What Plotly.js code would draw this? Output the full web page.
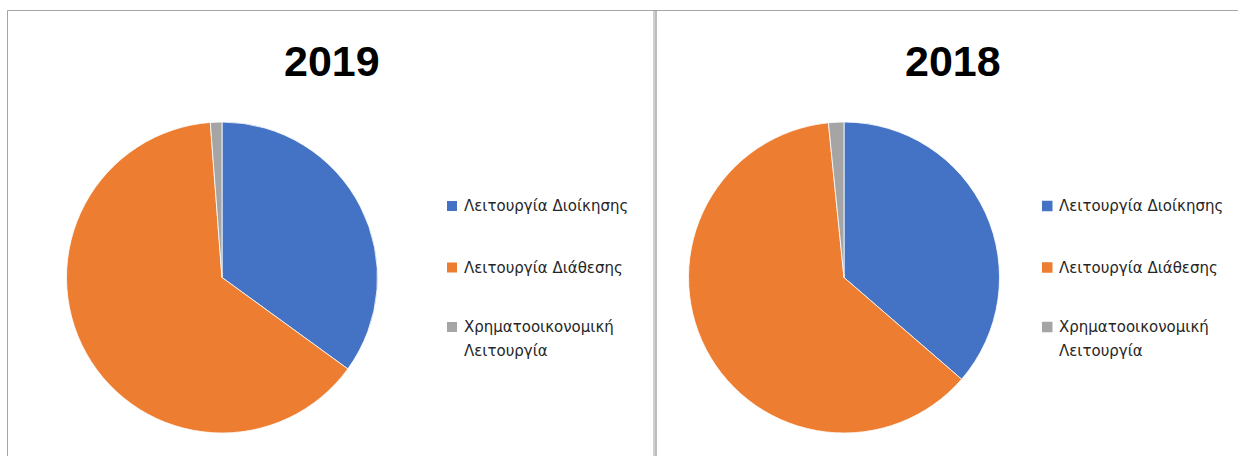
<!DOCTYPE html>
<html>
<head>
<meta charset="utf-8">
<script src="https://cdn.plot.ly/plotly-3.0.1.min.js"></script>
<style>html,body{margin:0;padding:0;background:#fff;}#chart{width:1238px;height:456px;}</style>
</head>
<body>
<div id="chart"></div>
<script>
// ---- data ----
const categories = ['Λειτουργία Διοίκησης', 'Λειτουργία Διάθεσης', 'Χρηματοοικονομική Λειτουργία'];
const years = ['2019', '2018'];
const values2019 = [35.0, 63.8, 1.2];
const values2018 = [36.35, 62.05, 1.6];
const sliceColors = ['#4472C4', '#ED7D31', '#A5A5A5'];

// ---- layout helpers (pixel -> paper) ----
const W = 1238, H = 456;
const px = x => x / W;
const py = y => 1 - y / H;

const panels = [
  {values: values2019, cx: 222, cy: 277.5, r: 155.5, titleX: 331.5, legSq: 447, legTx: 462, sqW: 10},
  {values: values2018, cx: 844, cy: 277.5, r: 155.5, titleX: 953, legSq: 1042, legTx: 1057, sqW: 10.5}
];
const legendRows = [[206], [267.5], [327, 351]];

const traces = panels.map((p, i) => ({
  type: 'pie',
  labels: categories,
  values: p.values,
  name: years[i],
  sort: false,
  direction: 'clockwise',
  rotation: 0,
  textinfo: 'none',
  hoverinfo: 'label+percent',
  showlegend: false,
  marker: {colors: sliceColors, line: {color: '#ffffff', width: 0.8}},
  domain: {x: [px(p.cx - p.r), px(p.cx + p.r)], y: [py(p.cy + p.r), py(p.cy - p.r)]}
}));

const annotations = [];
const shapes = [];

// panel borders
shapes.push({type: 'line', xref: 'paper', yref: 'paper', x0: px(7.5), x1: px(1238), y0: py(10.5), y1: py(10.5), line: {color: '#a6a6a6', width: 1}});
shapes.push({type: 'line', xref: 'paper', yref: 'paper', x0: px(7.5), x1: px(7.5), y0: py(10.5), y1: py(460), line: {color: '#a6a6a6', width: 1}});
shapes.push({type: 'line', xref: 'paper', yref: 'paper', x0: px(654), x1: px(654), y0: py(10.5), y1: py(460), line: {color: '#a0a0a0', width: 1}});
shapes.push({type: 'line', xref: 'paper', yref: 'paper', x0: px(656), x1: px(656), y0: py(10.5), y1: py(460), line: {color: '#909090', width: 1.2}});

panels.forEach((p, i) => {
  annotations.push({
    xref: 'paper', yref: 'paper', x: px(p.titleX), y: py(61), xanchor: 'center', yanchor: 'middle',
    text: '<b>' + years[i] + '</b>', showarrow: false,
    font: {family: 'Liberation Sans, Arial, sans-serif', size: 43, color: '#000000'}
  });
  categories.forEach((c, k) => {
    const rows = legendRows[k];
    const lines = rows.length > 1 ? c.split(' ') : [c];
    const s = p.sqW / 2;
    shapes.push({
      type: 'rect', xref: 'paper', yref: 'paper',
      x0: px(p.legSq), x1: px(p.legSq + p.sqW), y0: py(rows[0] - s), y1: py(rows[0] + s),
      fillcolor: sliceColors[k], line: {width: 0}
    });
    lines.forEach((ln, j) => {
      annotations.push({
        xref: 'paper', yref: 'paper', x: px(p.legTx), y: py(rows[j]), xanchor: 'left', yanchor: 'middle',
        text: ln, showarrow: false,
        font: {family: 'DejaVu Sans, sans-serif', size: 15, color: '#262626'}
      });
    });
  });
});

const layout = {
  width: W, height: H,
  margin: {l: 0, r: 0, t: 0, b: 0},
  paper_bgcolor: '#ffffff',
  showlegend: false,
  annotations: annotations,
  shapes: shapes
};

Plotly.newPlot('chart', traces, layout, {displayModeBar: false, staticPlot: true});
</script>
</body>
</html>
